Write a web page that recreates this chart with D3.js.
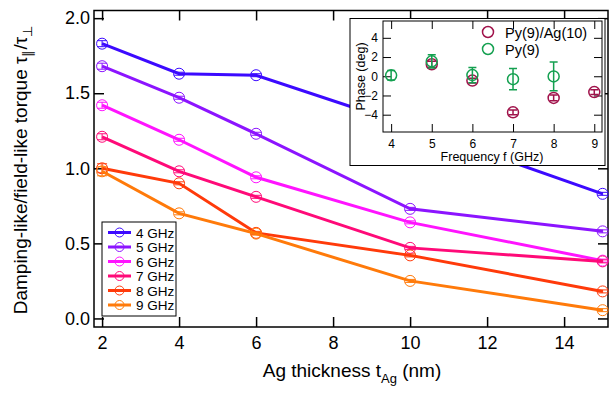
<!DOCTYPE html>
<html>
<head>
<meta charset="utf-8">
<script src="https://cdn.jsdelivr.net/npm/d3@7"></script>
<style>
  body { margin: 0; background: #fff; }
  svg { display: block; font-family: 'Liberation Sans', Arial, sans-serif; }
</style>
</head>
<body>
<svg id="chart" width="613" height="394"></svg>
<script>
// Ag thickness (nm)
let thickness = [2, 4, 6, 10, 15]
let freqLabels = ['4 GHz', '5 GHz', '6 GHz', '7 GHz', '8 GHz', '9 GHz']
let freqColors = ['#3c0aff', '#8c14ff', '#ff14ff', '#ff0a78', '#ff3a0a', '#ff7a0a']

// damping-like / field-like ratio for each frequency
let ratio4 = [1.83, 1.63, 1.62, 1.28, 0.83]
let ratio5 = [1.68, 1.47, 1.23, 0.73, 0.58]
let ratio6 = [1.42, 1.19, 0.94, 0.64, 0.385]
let ratio7 = [1.21, 0.98, 0.81, 0.47, 0.38]
let ratio8 = [1.00, 0.90, 0.57, 0.42, 0.18]
let ratio9 = [0.98, 0.70, 0.565, 0.25, 0.055]
let err4 = [0.02, 0.01, 0.01, 0.01, 0.01]
let err5 = [0.02, 0.01, 0.01, 0.01, 0.01]
let err6 = [0.02, 0.01, 0.01, 0.01, 0.01]
let err7 = [0.02, 0.01, 0.01, 0.01, 0.01]
let err8 = [0.03, 0.01, 0.01, 0.01, 0.01]
let err9 = [0.03, 0.01, 0.01, 0.01, 0.01]

let xTicks = [2, 4, 6, 8, 10, 12, 14]
let yTicks = [0, 0.5, 1.0, 1.5, 2.0]

// inset: phase vs frequency
let freqAg = [5, 6, 7, 8, 9]
let phaseAg = [1.25, -0.45, -3.75, -2.25, -1.65]
let errAg = [0.3, 0.25, 0.25, 0.3, 0.25]
let freqPy = [4, 5, 6, 7, 8]
let phasePy = [0.1, 1.55, 0.12, -0.3, -0.02]
let errPy = [0.5, 0.7, 0.8, 1.1, 1.5]
let insetXTicks = [4, 5, 6, 7, 8, 9]
let insetYTicks = [-4, -2, 0, 2, 4]
let insetNames = ['Py(9)/Ag(10)', 'Py(9)']
let insetColors = ['#a0124a', '#14a050']

let series = [ratio4, ratio5, ratio6, ratio7, ratio8, ratio9]
let errors = [err4, err5, err6, err7, err8, err9]

let svg = d3.select('#chart')

// main plot box
let pLeft = 94, pRight = 608, pTop = 10.5, pBottom = 327

let x = d3.scaleLinear().domain([1.79, 15.14]).range([pLeft, pRight])
let y = d3.scaleLinear().domain([-0.057, 2.051]).range([pBottom, pTop])

// axes with inward ticks
svg.append('g')
  .attr('transform', `translate(0,${pBottom})`)
  .call(d3.axisBottom(x).tickValues(xTicks).tickSize(-10).tickPadding(9).tickFormat(d3.format('d')))
svg.append('g')
  .attr('transform', `translate(${pLeft},0)`)
  .call(d3.axisLeft(y).tickValues(yTicks).tickSize(-10).tickPadding(4).tickFormat(d3.format('.1f')))
svg.append('g')
  .attr('transform', `translate(0,${pTop})`)
  .call(d3.axisTop(x).tickValues(xTicks).tickSize(-10).tickFormat(''))
svg.append('g')
  .attr('transform', `translate(${pRight},0)`)
  .call(d3.axisRight(y).tickValues(yTicks).tickSize(-10).tickFormat(''))

svg.selectAll('.domain').remove()
svg.selectAll('.tick line').attr('stroke', '#000').attr('stroke-width', 1.5)
svg.selectAll('.tick text').style('font-size', '18px').attr('fill', '#000')

svg.append('rect')
  .attr('x', pLeft).attr('y', pTop)
  .attr('width', pRight - pLeft).attr('height', pBottom - pTop)
  .attr('fill', 'none').attr('stroke', '#000').attr('stroke-width', 1.5)

// axis titles
let xt = svg.append('text')
  .attr('x', 352).attr('y', 377)
  .attr('text-anchor', 'middle')
  .style('font-size', '19px')
xt.append('tspan').text('Ag thickness t')
xt.append('tspan').attr('dy', 6).style('font-size', '13px').text('Ag')
xt.append('tspan').attr('dy', -6).text(' (nm)')

let yt = svg.append('text')
  .attr('transform', 'translate(27,170) rotate(-90)')
  .attr('text-anchor', 'middle')
  .style('font-size', '19px')
yt.append('tspan').text('Damping-like/field-like torque τ')
yt.append('tspan').attr('dy', 5).style('font-size', '13px').text('∥')
yt.append('tspan').attr('dy', -5).text('/τ')
yt.append('tspan').attr('dy', 5).style('font-size', '13px').text('⊥')

// series
let line = d3.line()
  .x((d, i) => x(thickness[i]))
  .y(d => y(d))

series.forEach(function (vals, k) {
  let g = svg.append('g')
  g.append('path')
    .attr('d', line(vals))
    .attr('fill', 'none')
    .attr('stroke', freqColors[k])
    .attr('stroke-width', 3)
  let pts = g.selectAll('g')
    .data(vals)
    .enter()
    .append('g')
  pts.append('circle')
    .attr('cx', (d, i) => x(thickness[i]))
    .attr('cy', d => y(d))
    .attr('r', 5.5)
    .attr('fill', 'none')
    .attr('stroke', freqColors[k])
    .attr('stroke-width', 1)
  pts.append('path')
    .attr('d', function (d, i) {
      let cx = x(thickness[i])
      let y0 = y(d - errors[k][i]), y1 = y(d + errors[k][i])
      return `M${cx},${y0}L${cx},${y1}M${cx - 5},${y0}L${cx + 5},${y0}M${cx - 5},${y1}L${cx + 5},${y1}`
    })
    .attr('fill', 'none')
    .attr('stroke', freqColors[k])
    .attr('stroke-width', 1)
})

// legend
svg.append('rect')
  .attr('x', 102).attr('y', 222)
  .attr('width', 74).attr('height', 94)
  .attr('fill', '#fff').attr('stroke', '#000').attr('stroke-width', 1)
let lg = svg.append('g').selectAll('g')
  .data(freqLabels)
  .enter()
  .append('g')
  .attr('transform', (d, i) => `translate(0,${232.5 + i * 14.5})`)
lg.append('line')
  .attr('x1', 108).attr('x2', 131)
  .attr('stroke', (d, i) => freqColors[i])
  .attr('stroke-width', 3)
lg.append('circle')
  .attr('cx', 119.5).attr('r', 4.5)
  .attr('fill', 'none')
  .attr('stroke', (d, i) => freqColors[i])
lg.append('text')
  .attr('x', 136).attr('y', 5)
  .style('font-size', '13.5px')
  .text(d => d)

// inset
let ins = svg.append('g')
ins.append('rect')
  .attr('x', 350).attr('y', 18.5)
  .attr('width', 255).attr('height', 147)
  .attr('fill', '#fff').attr('stroke', '#000').attr('stroke-width', 1)

let iLeft = 383, iRight = 602, iTop = 21, iBottom = 132
let ix = d3.scaleLinear().domain([3.8, 9.19]).range([iLeft, iRight])
let iy = d3.scaleLinear().domain([-5.8, 5.75]).range([iBottom, iTop])

ins.append('g')
  .attr('transform', `translate(0,${iBottom})`)
  .call(d3.axisBottom(ix).tickValues(insetXTicks).tickSize(-8).tickPadding(7).tickFormat(d3.format('d')))
ins.append('g')
  .attr('transform', `translate(${iLeft},0)`)
  .call(d3.axisLeft(iy).tickValues(insetYTicks).tickSize(-8).tickPadding(5).tickFormat(d3.format('d')))
ins.append('g')
  .attr('transform', `translate(0,${iTop})`)
  .call(d3.axisTop(ix).tickValues(insetXTicks).tickSize(-8).tickFormat(''))
ins.append('g')
  .attr('transform', `translate(${iRight},0)`)
  .call(d3.axisRight(iy).tickValues(insetYTicks).tickSize(-8).tickFormat(''))
ins.selectAll('.domain').remove()
ins.selectAll('.tick line').attr('stroke', '#000').attr('stroke-width', 1)
ins.selectAll('.tick text').style('font-size', '12px').attr('fill', '#000')
ins.append('rect')
  .attr('x', iLeft).attr('y', iTop)
  .attr('width', iRight - iLeft).attr('height', iBottom - iTop)
  .attr('fill', 'none').attr('stroke', '#000').attr('stroke-width', 1)

ins.append('text')
  .attr('x', 492).attr('y', 161)
  .attr('text-anchor', 'middle')
  .style('font-size', '12.5px')
  .text('Frequency f (GHz)')
ins.append('text')
  .attr('transform', `translate(365,${(iTop + iBottom) / 2}) rotate(-90)`)
  .attr('text-anchor', 'middle')
  .style('font-size', '12.5px')
  .text('Phase (deg)')

var drawPhase = function (fs, vals, errs, color) {
  let pts = ins.append('g').selectAll('g')
    .data(vals)
    .enter()
    .append('g')
  pts.append('path')
    .attr('d', function (d, i) {
      let cx = ix(fs[i])
      let y0 = iy(d - errs[i]), y1 = iy(d + errs[i])
      return `M${cx},${y0}L${cx},${y1}M${cx - 4},${y0}L${cx + 4},${y0}M${cx - 4},${y1}L${cx + 4},${y1}`
    })
    .attr('fill', 'none')
    .attr('stroke', color)
    .attr('stroke-width', 1.5)
  pts.append('circle')
    .attr('cx', (d, i) => ix(fs[i]))
    .attr('cy', d => iy(d))
    .attr('r', 5.5)
    .attr('fill', 'none')
    .attr('stroke', color)
    .attr('stroke-width', 1.5)
}
drawPhase(freqAg, phaseAg, errAg, insetColors[0])
drawPhase(freqPy, phasePy, errPy, insetColors[1])

let il = ins.append('g').selectAll('g')
  .data(insetNames)
  .enter()
  .append('g')
  .attr('transform', (d, i) => `translate(0,${32 + i * 17})`)
il.append('circle')
  .attr('cx', 488).attr('r', 5.5)
  .attr('fill', 'none')
  .attr('stroke', (d, i) => insetColors[i])
  .attr('stroke-width', 1.5)
il.append('text')
  .attr('x', 505).attr('y', 5.5)
  .style('font-size', '14.5px')
  .text(d => d)
</script>
</body>
</html>
